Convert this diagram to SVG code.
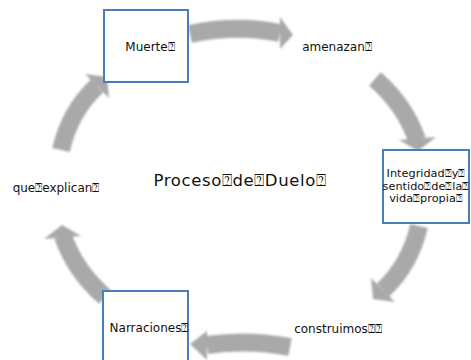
<svg xmlns="http://www.w3.org/2000/svg" width="471" height="360" viewBox="0 0 471 360">
<defs>
<style>
.arr{fill:none;stroke:#a9a9a9;stroke-width:18}
.hd{fill:#a9a9a9}
.box{fill:#ffffff;stroke:#4a7ebb;stroke-width:2}
.t{font-family:"DejaVu Sans",sans-serif;font-size:12px;fill:#111111;text-anchor:middle}
.s{font-size:11.3px}
.big{font-family:"DejaVu Sans",sans-serif;font-size:16.5px;fill:#111111;text-anchor:middle;letter-spacing:0.6px}
</style>
<filter id="soft" x="-10%" y="-10%" width="120%" height="120%"><feGaussianBlur stdDeviation="0.8"/></filter>
</defs>
<rect width="471" height="360" fill="#ffffff"/>
<g id="connectors" filter="url(#soft)">
<path class="arr" d="M190,34 Q236,24 280,33"/>
<polygon class="hd" points="280,17 293,35 280,49"/>
<path class="arr" d="M375,79 Q405,105 417,140"/>
<polygon class="hd" points="399,140 436,137 418,151"/>
<path class="arr" d="M419,226 Q410,265 383,290"/>
<polygon class="hd" points="371,278 395,302 373,299"/>
<path class="arr" d="M290,347 Q248,339 207,345"/>
<polygon class="hd" points="207,331 190,344 207,360"/>
<path class="arr" d="M105,297 Q75,271 63,236"/>
<polygon class="hd" points="81,236 44,239 62,225"/>
<path class="arr" d="M61,150 Q70,111 97,86"/>
<polygon class="hd" points="109,98 85,74 107,77"/>
</g>
<g id="muerte">
<rect class="box" x="104" y="10" width="84" height="72"/>
<text class="t" x="150" y="51">Muerte⍰</text>
</g>
<g id="amenazan">
<text class="t" x="337" y="51">amenazan⍰</text>
</g>
<g id="integridad">
<rect class="box" x="383" y="150" width="86" height="73"/>
<text class="t s" x="426" y="177">Integridad⍰y⍰</text>
<text class="t s" x="426" y="189.5">sentido⍰de⍰la⍰</text>
<text class="t s" x="426" y="202">vida⍰propia⍰</text>
</g>
<g id="construimos">
<text class="t" x="338" y="333">construimos⍰⍰</text>
</g>
<g id="narraciones">
<rect class="box" x="103" y="291" width="85" height="80"/>
<text class="t" x="149" y="332">Narraciones⍰</text>
</g>
<g id="explican">
<text class="t" x="56" y="192">que⍰explican⍰</text>
</g>
<g id="centro">
<text class="big" x="240" y="186">Proceso⍰de⍰Duelo⍰</text>
</g>
</svg>
